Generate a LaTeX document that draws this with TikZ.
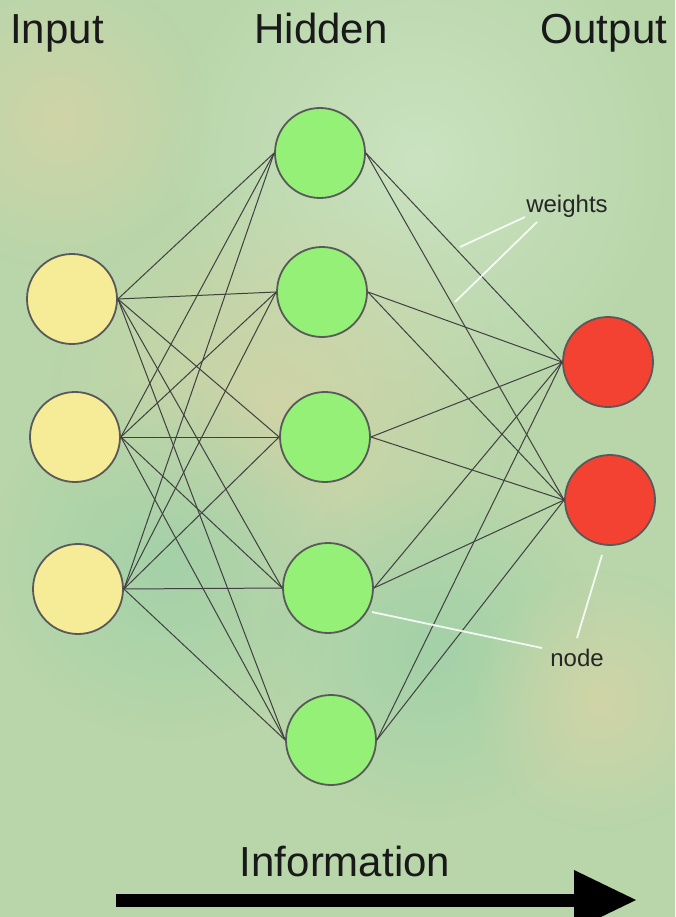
\documentclass[tikz,border=0pt]{standalone}
\usepackage{fontspec}
\setmainfont{Liberation Sans}
\usetikzlibrary{fadings}
\tikzfading[name=softspot, inner color=transparent!0, outer color=transparent!100]
\begin{document}
\begin{tikzpicture}[x=1pt,y=-1pt,
  bigtext/.style={font=\fontsize{42}{48}\selectfont, anchor=base, inner sep=0pt, text=black!90},
  smalltext/.style={font=\fontsize{24}{28}\selectfont, anchor=base, inner sep=0pt, text=black!85},
  neuron/.style={circle, minimum size=90pt, inner sep=0pt, draw=black!65, line width=1.8pt},
  innode/.style={neuron, fill=inyellow},
  hidnode/.style={neuron, fill=hidgreen},
  outnode/.style={neuron, fill=outred},
  weight/.style={draw=black!75, line width=1pt},
  pointer/.style={draw=white, line width=1.8pt, opacity=0.85},
  spot/.style={path fading=softspot, fill opacity=0.8}
]
\definecolor{bgbase}{RGB}{184,214,170}
\definecolor{bgbeige}{RGB}{214,212,166}
\definecolor{bgteal}{RGB}{158,208,168}
\definecolor{bglight}{RGB}{208,230,198}
\definecolor{inyellow}{RGB}{246,236,152}
\definecolor{hidgreen}{RGB}{148,240,118}
\definecolor{outred}{RGB}{244,66,50}

% background
\useasboundingbox (0,0) rectangle (675,917);
\fill[bgbase] (0,0) rectangle (675,917);
\begin{scope}
\clip (0,0) rectangle (675,917);
\fill[bglight, spot] (420,160) circle (260);
\fill[bgbeige, spot] (280,410) circle (230);
\fill[bgbeige, spot] (60,120) circle (150);
\fill[bgteal, spot] (170,560) circle (180);
\fill[bgteal, spot] (430,650) circle (170);
\fill[bgbeige, spot] (600,700) circle (130);
\end{scope}

% headers
\node[bigtext] (tin) at (57,44) {Input};
\node[bigtext] (thid) at (321,44) {Hidden};
\node[bigtext] (tout) at (604,44) {Output};

% nodes
\node[innode] (i1) at (72,299) {};
\node[innode] (i2) at (75,437) {};
\node[innode] (i3) at (78,589) {};
\node[hidnode] (h1) at (320,153) {};
\node[hidnode] (h2) at (322,292) {};
\node[hidnode] (h3) at (325,437) {};
\node[hidnode] (h4) at (328,588) {};
\node[hidnode] (h5) at (331,740) {};
\node[outnode] (o1) at (608,362) {};
\node[outnode] (o2) at (610,500) {};

% weights
\foreach \i in {1,2,3}
  \foreach \h in {1,...,5}
    \draw[weight] (i\i.east) -- (h\h.west);
\foreach \h in {1,...,5}
  \foreach \o in {1,2}
    \draw[weight] (h\h.east) -- (o\o.west);

% labels
\node[smalltext] (lw) at (567,213) {weights};
\node[smalltext] (ln) at (577,666) {node};
\coordinate (w1a) at (525,217);
\coordinate (w1b) at (460,247);
\coordinate (w2a) at (537,222);
\coordinate (w2b) at (455,302);
\draw[pointer] (w1a) -- (w1b);
\draw[pointer] (w2a) -- (w2b);
\coordinate (n1a) at (372,612);
\coordinate (n1b) at (542,648);
\coordinate (n2a) at (602,555);
\coordinate (n2b) at (577,638);
\draw[pointer] (n1a) -- (n1b);
\draw[pointer] (n2a) -- (n2b);

% information arrow
\node[bigtext] (tinfo) at (345,876) {Information};
\coordinate (as) at (116,900);
\coordinate (ab) at (574,900);
\coordinate (at) at (636,900);
\fill[black] (116,893.5) rectangle (575,906.5);
\fill[black] (574,870) -- (at) -- (574,930) -- cycle;
\end{tikzpicture}
\end{document}
